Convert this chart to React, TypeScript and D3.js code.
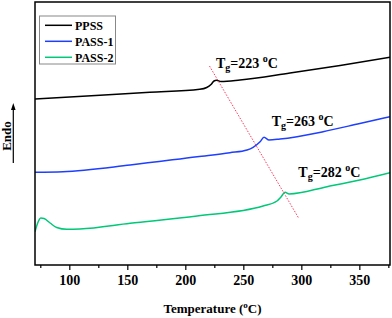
import React from 'react';
import * as d3 from 'd3';

// DSC traces, [temperature °C, heat flow (a.u., endo up)]
const ppss: [number, number][] = [
  [70, 166], [126, 169.8], [169, 172.7], [212, 175.7], [218, 177.5], [221.7, 180.5],
  [224.3, 184], [226.5, 184.7], [230.3, 183.5], [246.7, 185], [289.8, 192], [333, 199.5], [376, 207.7],
];
const pass1: [number, number][] = [
  [70, 92.7], [94, 93.3], [152, 100], [209.7, 108.3], [238, 112.3], [252.8, 115], [258, 117.7],
  [264, 123.3], [267.4, 127.7], [271.7, 125], [281.2, 126], [318.3, 133.3], [350, 141.5], [376, 148.3],
];
const pass2: [number, number][] = [
  [70, 33.3], [72, 41], [75, 47], [77.8, 46.5], [83, 42], [88.7, 37.5], [97.4, 35.7], [108.8, 36],
  [152, 41.7], [209.7, 49], [266.6, 59], [278.6, 64], [282, 68], [285.5, 72.7], [289, 71],
  [321.7, 78.3], [350, 85], [376, 92.3],
];
const seriesNames = ['PPSS', 'PASS-1', 'PASS-2'];
const seriesColors = ['#000000', '#1f3fff', '#00c878'];
const tgValues = [223, 263, 282];
const tgLabelPos: [number, number][] = [[226, 197], [274, 139], [297, 88]];
const tgLine: [number, number][] = [[220.4, 199], [297.2, 47]];
const xTicks = [100, 150, 200, 250, 300, 350];
const xMinor = [75, 125, 175, 225, 275, 325, 375];

const W = 392, H = 318;
const left = 35, right = 390, top = 2, bottom = 265;

export default function App() {
  const x = d3.scaleLinear().domain([70, 376]).range([left, right]);
  const y = d3.scaleLinear().domain([0, 263]).range([bottom, top]);
  const line = d3.line<[number, number]>().x(d => x(d[0])).y(d => y(d[1])).curve(d3.curveMonotoneX);
  const data = [ppss, pass1, pass2];
  const font = '"Liberation Serif", "Times New Roman", serif';

  return (
    <svg width={W} height={H} style={{ position: 'absolute', left: 0, top: 0 }} fontFamily={font} fontWeight="bold">
      <rect x={0} y={0} width={W} height={H} fill="#fff" />
      <defs>
        <clipPath id="plot"><rect x={left} y={top} width={right - left} height={bottom - top} /></clipPath>
      </defs>
      <g clipPath="url(#plot)">
        {data.map((d, i) => (
          <path key={i} d={line(d) ?? ''} fill="none" stroke={seriesColors[i]} strokeWidth={1.5} />
        ))}
        <line x1={x(tgLine[0][0])} y1={y(tgLine[0][1])} x2={x(tgLine[1][0])} y2={y(tgLine[1][1])}
          stroke="#ff3a5c" strokeWidth={1} strokeDasharray="1.5,1.5" />
      </g>
      {tgValues.map((v, i) => (
        <text key={i} x={x(tgLabelPos[i][0])} y={y(tgLabelPos[i][1])} fontSize={14}>
          T<tspan fontSize={10} dy={3}>g</tspan><tspan dy={-3}>={v} </tspan><tspan fontSize={10} dy={-6}>o</tspan><tspan dy={6}>C</tspan>
        </text>
      ))}
      <rect x={left} y={top} width={right - left} height={bottom - top} fill="none" stroke="#000" strokeWidth={1.5} />
      {xTicks.map(t => (
        <g key={t}>
          <line x1={x(t)} x2={x(t)} y1={bottom} y2={bottom + 5} stroke="#000" strokeWidth={1.2} />
          <text x={x(t)} y={285} fontSize={14} textAnchor="middle">{t}</text>
        </g>
      ))}
      {xMinor.map(t => (
        <line key={t} x1={x(t)} x2={x(t)} y1={bottom} y2={bottom + 3} stroke="#000" strokeWidth={1.2} />
      ))}
      <text x={(left + right) / 2 + 0} y={313} fontSize={13} textAnchor="middle">
        Temperature (<tspan fontSize={9} dy={-5}>o</tspan><tspan dy={5}>C)</tspan>
      </text>
      <text transform="translate(10.5,136) rotate(-90)" fontSize={13} textAnchor="middle">Endo</text>
      <line x1={13.3} x2={13.3} y1={163} y2={108} stroke="#000" strokeWidth={1.2} />
      <path d="M13.3,103 L11,110 L15.6,110 Z" fill="#000" />
      <rect x={39.5} y={16} width={76} height={48} fill="#fff" stroke="#888" strokeWidth={1} />
      {seriesNames.map((n, i) => (
        <g key={n}>
          <line x1={45} x2={72} y1={25.3 + i * 16} y2={25.3 + i * 16} stroke={seriesColors[i]} strokeWidth={1.5} />
          <text x={75} y={29.5 + i * 16} fontSize={12}>{n}</text>
        </g>
      ))}
    </svg>
  );
}
